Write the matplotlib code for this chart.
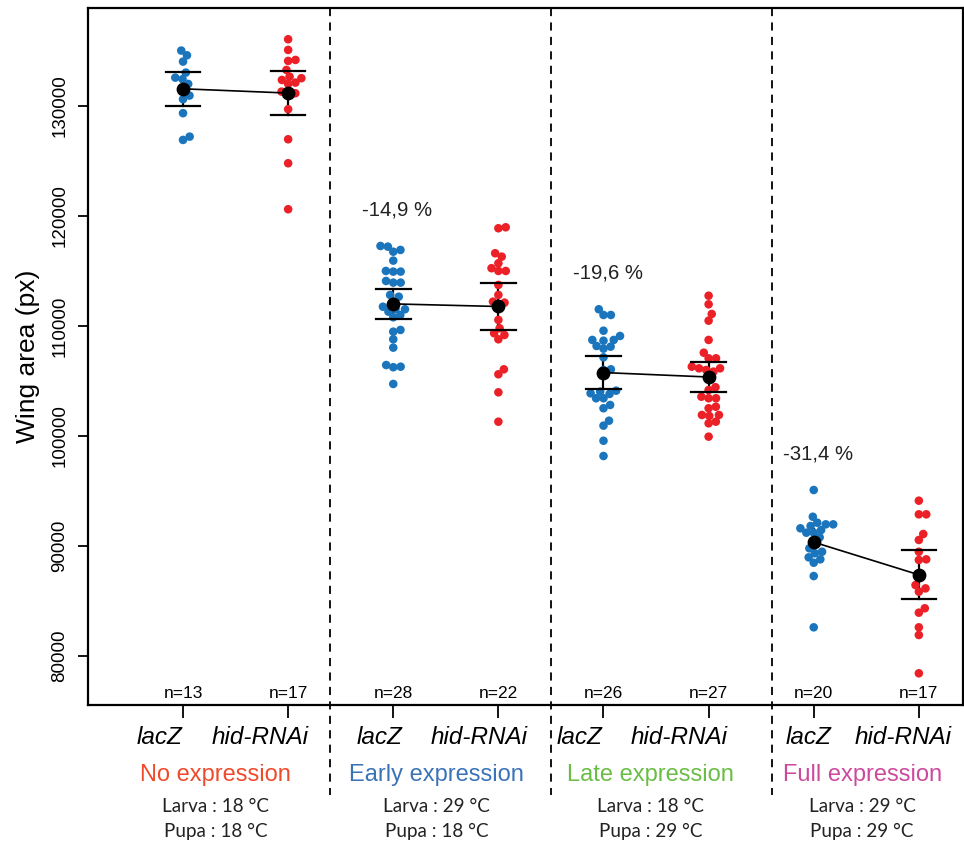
import matplotlib
matplotlib.use("Agg")
import matplotlib.pyplot as plt
import matplotlib.transforms as mtransforms
import numpy as np

# wing areas (px)
no_lacz = [135030, 134600, 134030, 133030, 132570, 132430, 132000, 131520, 130940,
           130610, 129340, 127210, 126910]
no_hid = [136060, 135090, 134180, 134090, 133270, 132660, 132520, 132360, 132120,
          132000, 131300, 131150, 131000, 129700, 126970, 124790, 120610]
early_lacz = [117270, 117210, 116910, 116750, 115940, 115000, 114940, 114940, 114090,
              113940, 113940, 112820, 112660, 112210, 111750, 111520, 111520, 111300,
              111000, 110790, 109640, 109480, 108790, 108030, 106450, 106300, 106250,
              104730]
early_hid = [118970, 118880, 116610, 116300, 115700, 115250, 115000, 115000, 113730,
             112820, 112210, 112120, 111750, 110550, 109790, 109340, 109180, 108790,
             106060, 105610, 103970, 101300]
late_lacz = [111520, 111000, 111000, 109570, 109090, 108730, 108730, 108660, 108180,
             108120, 107940, 107150, 106060, 106000, 104120, 104030, 103880, 103820,
             103430, 103430, 102820, 102520, 101390, 100940, 99570, 98180]
late_hid = [112750, 111970, 111090, 110480, 108730, 107570, 107060, 107060, 106300,
            106150, 106150, 106000, 105850, 105340, 104430, 104180, 103570, 103430,
            103430, 102660, 102520, 101910, 101910, 101820, 101300, 101150, 99940]
full_lacz = [95090, 92660, 92120, 91970, 91970, 91820, 91610, 91450, 91210, 91210,
             90790, 90390, 89790, 89480, 89340, 88970, 88790, 88480, 87270, 82610]
full_hid = [94120, 92880, 92880, 91090, 90550, 89480, 88790, 88730, 87360, 86450,
            86150, 85850, 84340, 83940, 82610, 81910, 78430]

series = [no_lacz, no_hid, early_lacz, early_hid, late_lacz, late_hid, full_lacz, full_hid]
genotypes = ["lacZ", "hid-RNAi"] * 4
group_names = ["No expression", "Early expression", "Late expression", "Full expression"]
larva_temp = ["18", "29", "18", "29"]
pupa_temp = ["18", "18", "29", "29"]
pct_labels = ["-14,9 %", "-19,6 %", "-31,4 %"]

# 0.975 quantiles of Student t, by degrees of freedom
t975 = {12: 2.179, 16: 2.120, 19: 2.093, 21: 2.080, 25: 2.060, 26: 2.056, 27: 2.052}

blue = "#1b75bc"
red = "#ec2127"
group_colors = ["#ef4a2b", "#3b73b9", "#6abd45", "#cc4a9e"]
FONT = "Liberation Sans"

YMIN, YMAX = 75550, 138900
XMIN, XMAX = 0.096, 8.42

fig = plt.figure(figsize=(9.64, 8.43), dpi=100)
ax = fig.add_axes([88 / 964, 1 - 705 / 843, 875 / 964, 697 / 843])
ax.set_xlim(XMIN, XMAX)
ax.set_ylim(YMIN, YMAX)

# pixel scales, used for the beeswarm layout
px_x = 875 / (XMAX - XMIN)
px_y = 697 / (YMAX - YMIN)


def swarm(vals, d=7.4):
    # place each point as close to the centre as possible without overlap
    order = np.argsort(vals)
    ys = np.asarray(vals, float) * px_y
    xs = np.zeros(len(vals))
    placed = []
    for i in order:
        cands = [0.0]
        for j in placed:
            dy = ys[i] - ys[j]
            if abs(dy) < d:
                dx = np.sqrt(d * d - dy * dy)
                cands += [xs[j] + dx, xs[j] - dx]
        cands = sorted(cands, key=lambda c: (round(abs(c), 6), -c))
        for c in cands:
            ok = all((c - xs[j]) ** 2 + (ys[i] - ys[j]) ** 2 >= d * d - 1e-6 for j in placed)
            if ok:
                xs[i] = c
                break
        placed.append(i)
    return xs / px_x


means = []
for k, vals in enumerate(series):
    pos = k + 1
    v = np.array(vals)
    m = v.mean()
    ci = t975[len(v) - 1] * v.std(ddof=1) / np.sqrt(len(v))
    means.append(m)
    col = blue if k % 2 == 0 else red
    ax.plot([pos, pos], [m - ci, m + ci], color="black", lw=1.6, zorder=2)
    if k != 6:  # caps of this one are hidden in the original
        for yy in (m - ci, m + ci):
            ax.plot([pos - 0.165, pos + 0.165], [yy, yy], color="black", lw=1.6, zorder=4)
    ax.scatter(pos + swarm(vals), v, s=38, color=col, edgecolors="none", zorder=3)
    ax.text(pos, 0.016, "n=%d" % len(v), transform=ax.get_xaxis_transform(),
            ha="center", va="center", fontsize=12.5, family=FONT)

for g in range(4):
    a, b = 2 * g + 1, 2 * g + 2
    ax.plot([a, b], [means[a - 1], means[b - 1]], color="black", lw=1.2, zorder=5)
    ax.scatter([a, b], [means[a - 1], means[b - 1]], s=80, color="black", zorder=6)

for g, lab in enumerate(pct_labels):
    pos = 2 * (g + 1) + 1
    ax.text(pos + 0.04, max(series[pos - 1]) + 3300, lab, ha="center", va="center",
            fontsize=14.7, color="#222222", family=FONT)

# dashed separators, running down into the label area
trans = mtransforms.blended_transform_factory(ax.transData, ax.transAxes)
for xs in (2.398, 4.50, 6.60):
    ax.plot([xs, xs], [1, -0.129], transform=trans, color="black", lw=1.3,
            ls=(0, (4.5, 3.5)), clip_on=False, zorder=1)

ax.set_xticks(range(1, 9))
ax.set_xticklabels([])
ax.tick_params(axis="x", length=9, width=1.3)
ax.set_yticks([80000, 90000, 100000, 110000, 120000, 130000])
ax.set_yticklabels(["80000", "90000", "100000", "110000", "120000", "130000"],
                   family=FONT, fontsize=13.5)
for lbl in ax.get_yticklabels():
    lbl.set_rotation(90)
    lbl.set_va("center")
ax.tick_params(axis="y", length=7, width=1.3, pad=7)
for sp in ax.spines.values():
    sp.set_linewidth(1.6)
ax.set_ylabel("Wing area (px)", family=FONT, fontsize=19, labelpad=8)

# genotype labels (hand-placed in the original)
geno_x = [0.78, 1.73, 2.87, 3.82, 4.77, 5.72, 6.95, 7.85]
for x, lab in zip(geno_x, genotypes):
    ax.text(x, -0.047, lab, transform=trans, ha="center", va="center",
            fontsize=17.5, style="italic", family=FONT)

group_x = [1.31, 3.41, 5.45, 7.46]
for g in range(4):
    ax.text(group_x[g], -0.1, group_names[g], transform=trans, ha="center", va="center",
            fontsize=17, color=group_colors[g], family=FONT)
    ax.text(group_x[g], -0.145, "Larva : %s °C" % larva_temp[g], transform=trans,
            ha="center", va="center", fontsize=13.6, color="#222222", family="Lato")
    ax.text(group_x[g], -0.181, "Pupa : %s °C" % pupa_temp[g], transform=trans,
            ha="center", va="center", fontsize=13.6, color="#222222", family="Lato")

fig.savefig("out.png", dpi=100)
